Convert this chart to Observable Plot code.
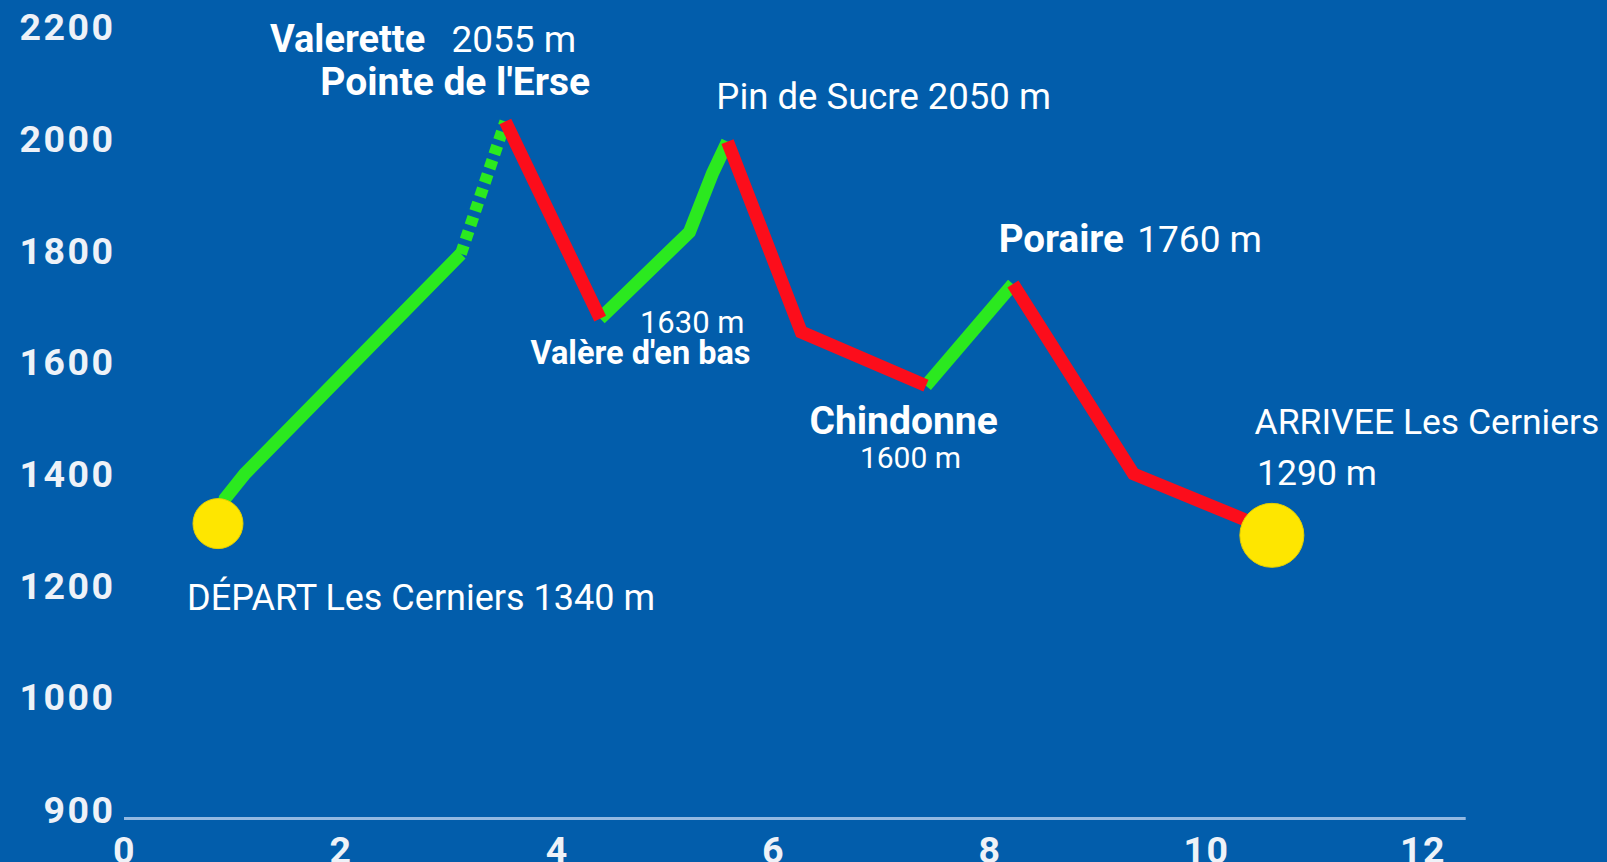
<!DOCTYPE html>
<html>
<head>
<meta charset="utf-8">
<script src="https://cdn.jsdelivr.net/npm/d3@7"></script>
<script src="https://cdn.jsdelivr.net/npm/@observablehq/plot@0.6"></script>
<style>
  html, body { margin: 0; padding: 0; background: #025dab; overflow: hidden; }
  #chart svg { display: block; }
  #chart g[aria-label="y-axis tick label"] text { letter-spacing: 2.5px; }
  #chart g[aria-label="x-axis tick label"] text { letter-spacing: 1.5px; }
</style>
</head>
<body>
<div id="chart"></div>
<script>
// ---- Data ----
const distanceKm = [0.864, 0.93, 1.112, 3.109, 3.52, 4.396, 5.221, 5.434, 5.573, 6.255, 7.407, 8.211, 9.325, 10.367, 10.604];
const altitudeM  = [1313, 1358, 1402, 1796, 2033, 1680, 1835, 1940, 1997, 1656, 1560, 1742, 1402, 1319, 1292];

// sections of the route: first / last vertex index and kind
const segmentStart = [0, 3, 4, 5, 8, 10, 11];
const segmentEnd   = [3, 4, 5, 8, 10, 11, 14];
const segmentKind  = ["montée", "montée-pointillé", "descente", "montée", "descente", "montée", "descente"];

const yTicks = [1000, 1200, 1400, 1600, 1800, 2000, 2200];
const yBaseTick = [900];
const xTicks = [0, 2, 4, 6, 8, 10, 12];

const labelText = [
  "Valerette", "2055 m", "Pointe de l'Erse", "Pin de Sucre 2050 m",
  "Poraire", "1760 m", "1630 m", "Valère d'en bas",
  "Chindonne", "1600 m", "ARRIVEE Les Cerniers", "1290 m",
  "DÉPART Les Cerniers 1340 m"
];

// ---- Layout of the labels (data coordinates of their baseline anchor) ----
const labelLayout = [
  {x: 1.345, y: 2158, anchor: "start",  weight: "bold",   size: 38},
  {x: 3.022, y: 2158, anchor: "start",  weight: "normal", size: 37},
  {x: 1.810, y: 2081, anchor: "start",  weight: "bold",   size: 39},
  {x: 5.470, y: 2056, anchor: "start",  weight: "normal", size: 36.5},
  {x: 8.080, y: 1800, anchor: "start",  weight: "bold",   size: 38.5},
  {x: 9.360, y: 1800, anchor: "start",  weight: "normal", size: 37},
  {x: 5.730, y: 1655, anchor: "end",    weight: "normal", size: 31},
  {x: 5.786, y: 1598, anchor: "end",    weight: "bold",   size: 32.5},
  {x: 7.200, y: 1474, anchor: "middle", weight: "bold",   size: 39},
  {x: 7.264, y: 1413, anchor: "middle", weight: "normal", size: 30},
  {x: 10.444, y: 1473, anchor: "start", weight: "normal", size: 35.5},
  {x: 10.467, y: 1383, anchor: "start", weight: "normal", size: 35.5},
  {x: 0.578, y: 1159, anchor: "start",  weight: "normal", size: 36}
];

const GREEN = "#2be91f", RED = "#fc0d1b", YELLOW = "#fee600", WHITE = "#ffffff", TICK = "#eef2f8";

const rows = segmentKind.flatMap((kind, i) =>
  d3.range(segmentStart[i], segmentEnd[i] + 1).map(j => ({x: distanceKm[j], y: altitudeM[j], seg: i, kind}))
);
const labels = labelText.map((text, i) => ({text, ...labelLayout[i]}));
const first = [{x: distanceKm[0], y: altitudeM[0]}];
const last = [{x: distanceKm[distanceKm.length - 1], y: altitudeM[altitudeM.length - 1]}];

const lineStyle = {x: "x", y: "y", z: "seg", strokeWidth: 13, strokeLinecap: "butt", strokeLinejoin: "miter", strokeMiterlimit: 10};

const textMarks = ["start", "middle", "end"].flatMap(anchor =>
  ["bold", "normal"].flatMap(weight => {
    const sizes = [...new Set(labels.filter(d => d.anchor === anchor && d.weight === weight).map(d => d.size))];
    return sizes.map(size => Plot.text(
      labels.filter(d => d.anchor === anchor && d.weight === weight && d.size === size),
      {x: "x", y: "y", text: "text", textAnchor: anchor, lineAnchor: "bottom",
       fontWeight: weight, fontSize: size, fill: WHITE, fontFamily: "Roboto"}
    ));
  })
);

const axisFont = {tickSize: 0, fontSize: 37.5, fontWeight: "bold", color: TICK, fontFamily: "Roboto", tickFormat: d => String(d), label: null};

// broken axis: the band between 900 and 1000 is stretched (as in the original graphic)
const breakStretch = 2.15;
const yTransform = v => v >= 1000 ? v : 1000 - (1000 - v) * breakStretch;

const chart = Plot.plot({
  width: 1607,
  height: 862,
  marginLeft: 124,
  marginRight: 141.3,
  marginBottom: 44,
  marginTop: 0,
  style: {background: "#025dab", fontFamily: "Roboto", color: WHITE},
  x: {domain: [0, 12.4]},
  y: {transform: yTransform, domain: [yTransform(900), 2200], range: [818, 27.7]},
  marks: [
    Plot.ruleY([900], {stroke: "#93b9e2", strokeWidth: 3}),
    Plot.line(rows.filter(d => d.kind === "montée"), {...lineStyle, stroke: GREEN}),
    Plot.line(rows.filter(d => d.kind === "montée-pointillé"), {...lineStyle, stroke: GREEN, strokeWidth: 12, strokeDasharray: "9,6"}),
    Plot.line(rows.filter(d => d.kind === "descente"), {...lineStyle, stroke: RED}),
    Plot.dot(first, {x: "x", y: "y", r: 25, fill: YELLOW, stroke: "#e5cf00", strokeWidth: 1}),
    Plot.dot(last, {x: "x", y: "y", r: 32, fill: YELLOW, stroke: "#e5cf00", strokeWidth: 1}),
    ...textMarks,
    Plot.axisY(yTicks, {...axisFont, tickPadding: 9}),
    Plot.axisY(yBaseTick, {...axisFont, tickPadding: 9, dy: -8}),
    Plot.axisX(xTicks, {...axisFont, tickPadding: 17.5})
  ]
});
document.getElementById("chart").appendChild(chart);
</script>
</body>
</html>
